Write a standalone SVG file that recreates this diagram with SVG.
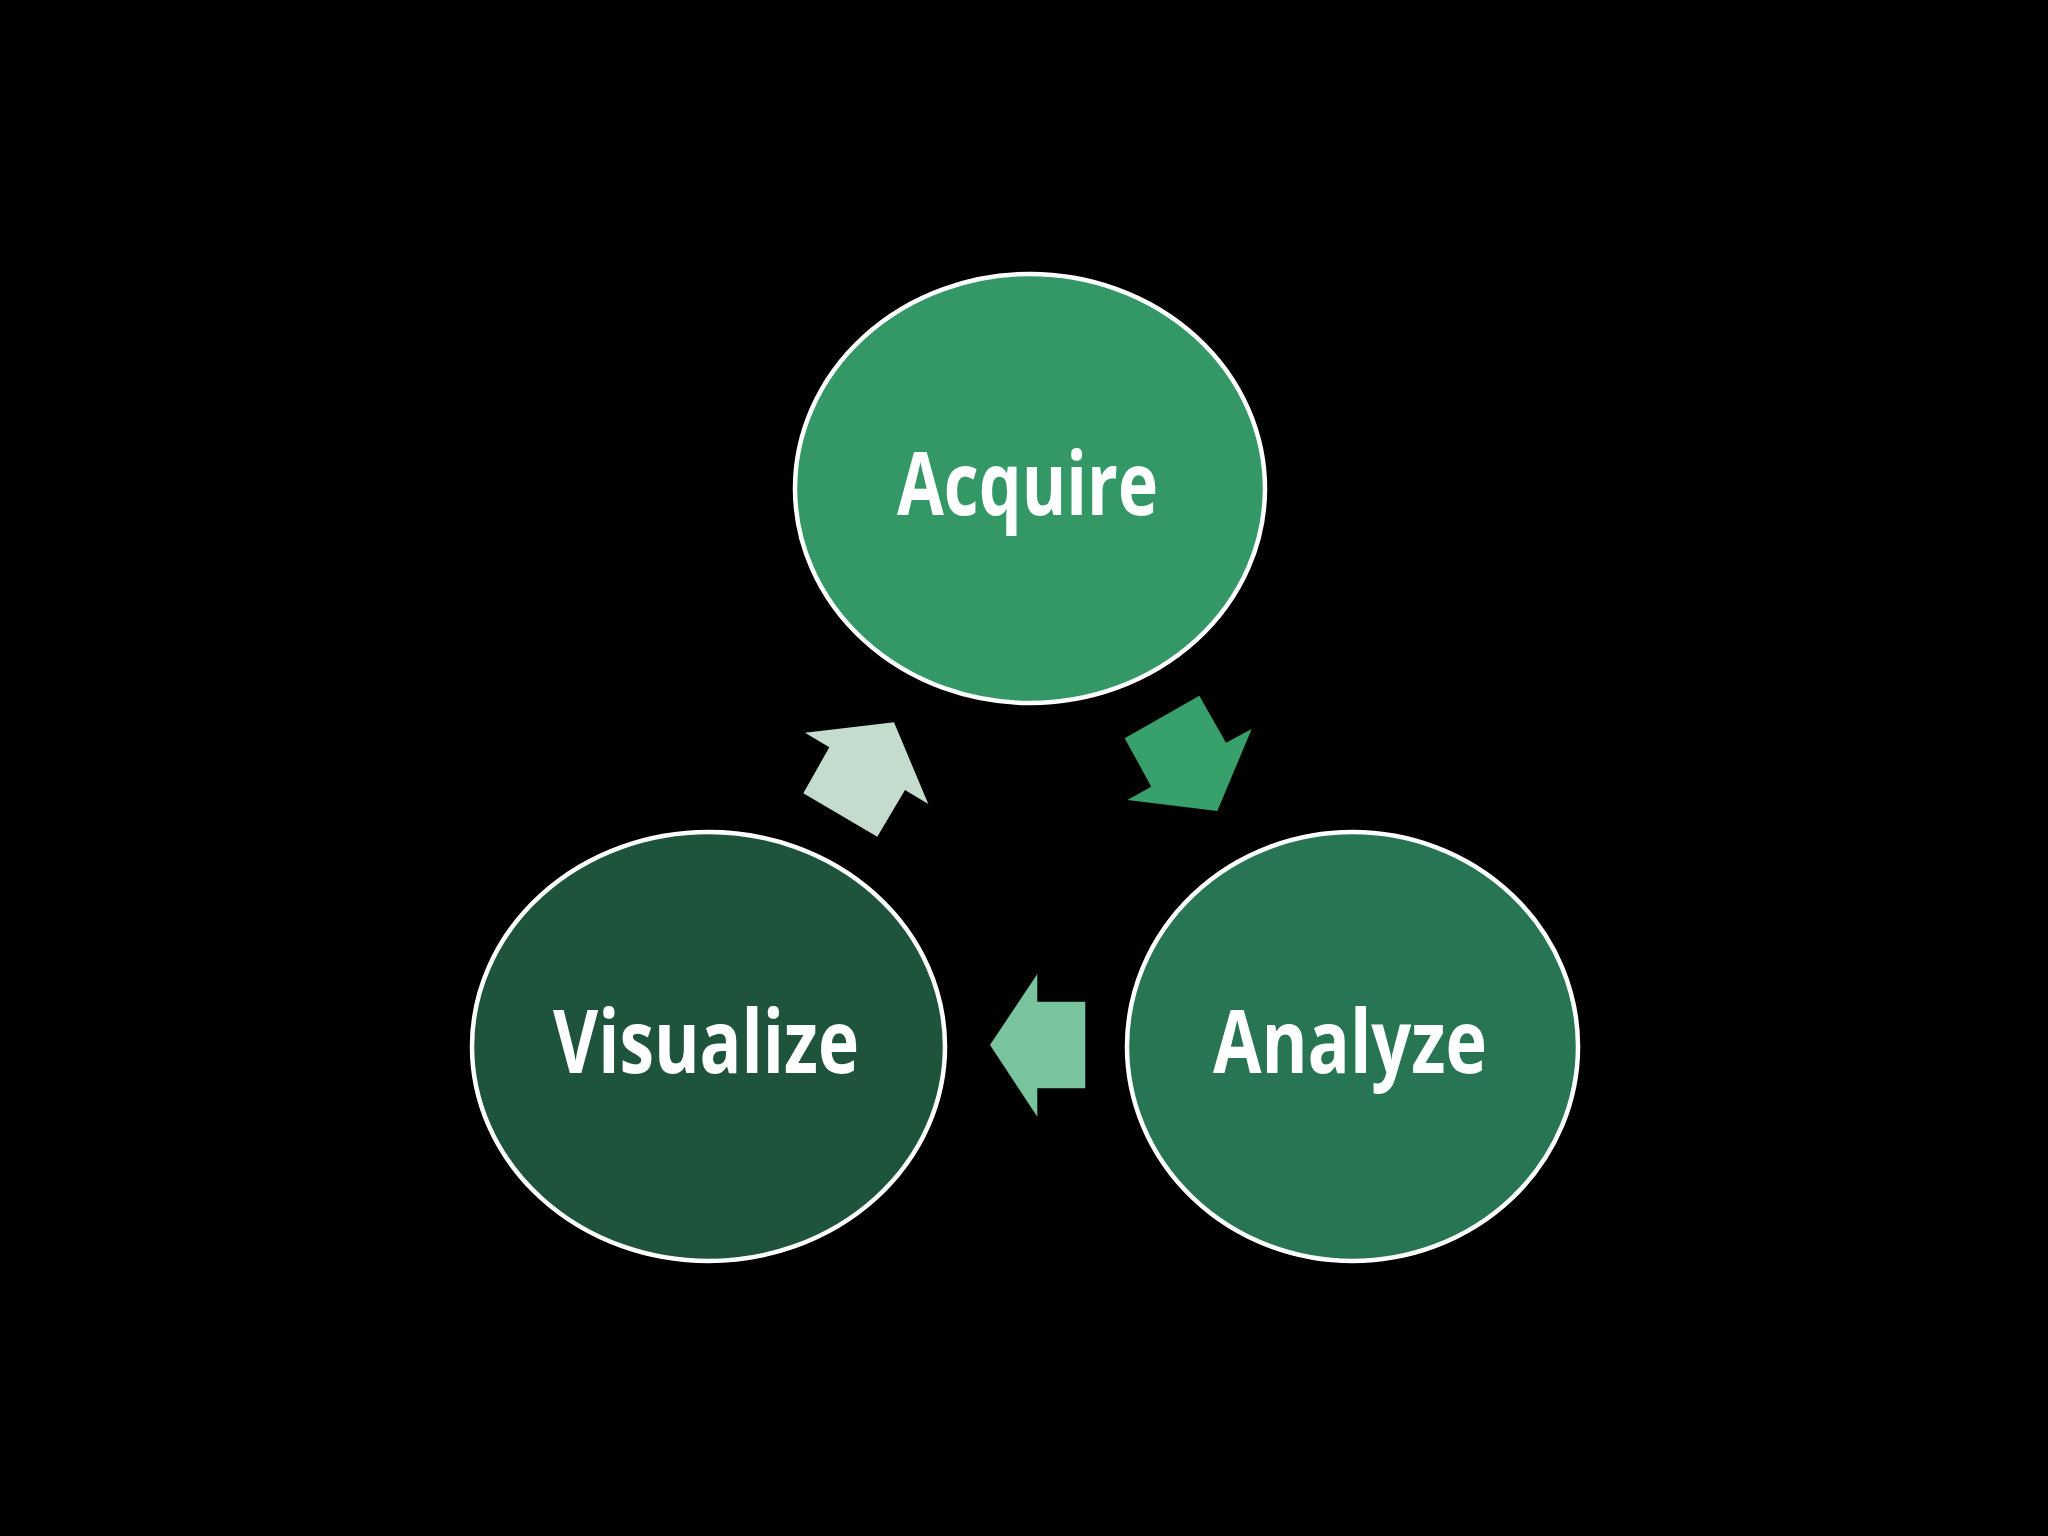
<svg xmlns="http://www.w3.org/2000/svg" width="2048" height="1536" viewBox="0 0 2048 1536">
<style>
.node{stroke:#ffffff;stroke-width:4.5}
.lbl{font-family:"Open Sans","DejaVu Sans",sans-serif;font-weight:700;font-size:88px;fill:#ffffff;text-anchor:start}
</style>
<rect x="0" y="0" width="2048" height="1536" fill="#000000"/>
<g id="connectors">
<polygon id="arrow-acquire-analyze" fill="#37a06b" points="1199.3,695.7 1226,742.7 1251.7,729 1217.3,811 1127.3,800 1151.3,786.7 1124.7,738.3"/>
<polygon id="arrow-analyze-visualize" fill="#79c49d" points="990,1045 1037.3,974 1037.3,1001.7 1085.3,1001.7 1085.3,1088.3 1037.3,1088.3 1037.3,1116.7"/>
<polygon id="arrow-visualize-acquire" fill="#c3dccd" points="805,732.7 894,722.3 928.3,804 905,790 877.3,836.7 803.3,793.3 829.3,747.3"/>
</g>
<g id="node-acquire">
<ellipse class="node" cx="1030" cy="488.5" rx="235" ry="214.5" fill="#339866"/>
<text class="lbl" x="897" y="515" textLength="261" lengthAdjust="spacingAndGlyphs">Acquire</text>
</g>
<g id="node-analyze">
<ellipse class="node" cx="1352.5" cy="1046.5" rx="225.5" ry="214.5" fill="#277553"/>
<text class="lbl" x="1213" y="1073" textLength="274" lengthAdjust="spacingAndGlyphs">Analyze</text>
</g>
<g id="node-visualize">
<ellipse class="node" cx="708.5" cy="1046.5" rx="236.5" ry="214.5" fill="#1e543c"/>
<text class="lbl" x="553" y="1073" textLength="306" lengthAdjust="spacingAndGlyphs">Visualize</text>
</g>
</svg>
